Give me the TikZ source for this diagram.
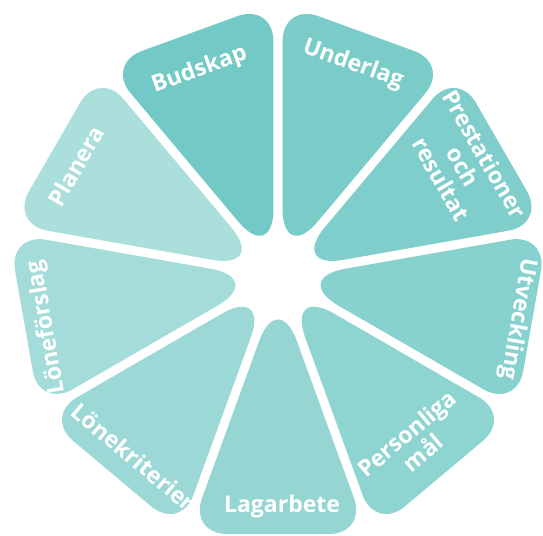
\documentclass[tikz,border=0pt]{standalone}
\usepackage{fontspec}
\setmainfont{Open Sans}
\usetikzlibrary{calc}
\definecolor{petal}{RGB}{114,201,197}
\tikzset{
  lbl/.style={text=white, font=\bfseries\fontsize{23}{25}\selectfont,
    align=center, inner sep=0pt},
}
\begin{document}
\begin{tikzpicture}[x=1pt,y=1pt]
  \useasboundingbox (0,0) rectangle (543,535);
  \coordinate (c) at (278,259);
  % the nine petals, darkest first, going clockwise
  \foreach \ang/\pct in {110/100,70/95,30/90,-10/85,-50/80,-90/75,-130/70,-170/65,150/60}{
    \begin{scope}[shift={(c)},rotate=\ang]
      \coordinate (a) at (13.2,0);
      \coordinate (b) at (258,89);
      \coordinate (d) at (258,-89);
    \end{scope}
    \fill[petal!\pct!white]
      ($(a)!55pt!(b)$) -- ($(b)!38pt!(a)$)
      .. controls ($(b)!17pt!(a)$) and ($(b)!17pt!(d)$) .. ($(b)!38pt!(d)$)
      -- ($(d)!38pt!(b)$)
      .. controls ($(d)!17pt!(b)$) and ($(d)!17pt!(a)$) .. ($(d)!38pt!(a)$)
      -- ($(a)!55pt!(d)$)
      .. controls ($(a)!24.6pt!(d)$) and ($(a)!24.6pt!(b)$) .. cycle;
  }
  % labels
  \node[lbl, rotate=20]   (budskap)       at (199.5,465)  {Budskap};
  \node[lbl, rotate=-20]  (underlag)      at (353,470.5)  {Underlag};
  \node[lbl, rotate=-60]  (prestationer)  at (463,368.5)  {Prestationer\\och\\resultat};
  \node[lbl, rotate=-100] (utveckling)    at (518,216)    {Utveckling};
  \node[lbl, rotate=40]   (personliga)    at (415,92)     {Personliga\\mål};
  \node[lbl]              (lagarbete)     at (282,28.5)   {Lagarbete};
  \node[lbl, rotate=-40]  (lonekriterier) at (134,78)     {Lönekriterier};
  \node[lbl, rotate=100]  (loneforslag)   at (47,208)     {Löneförslag};
  \node[lbl, rotate=60]   (planera)       at (76,369)     {Planera};
\end{tikzpicture}
\end{document}
